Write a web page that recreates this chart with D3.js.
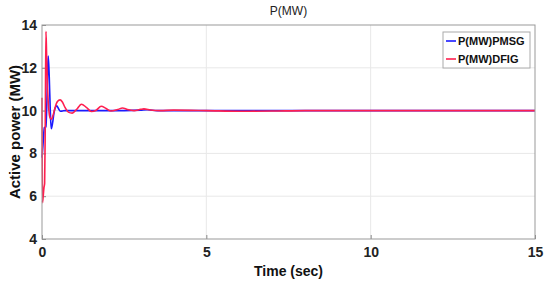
<!DOCTYPE html>
<html>
<head>
<meta charset="utf-8">
<script src="https://cdn.jsdelivr.net/npm/d3@7"></script>
<style>
  body { margin: 0; background: #fff; }
  svg { display: block; font-family: "Liberation Sans", Arial, sans-serif; }
</style>
</head>
<body>
<div id="chart"></div>
<script>
// time (s) and active power (MW)
const pmsgT = [0, 0.02, 0.04, 0.07, 0.12, 0.15, 0.17, 0.19, 0.22, 0.25, 0.28, 0.32, 0.36, 0.40, 0.45, 0.50, 0.56, 0.62, 0.70, 0.85, 1.0, 1.5, 2.0, 2.5, 3.0, 3.2, 3.5, 4.0, 5.0, 6.0, 7.0, 8.0, 9.0, 10.0, 11.0, 12.0, 13.0, 14.0, 15.0];
const pmsgP = [7.8, 8.2, 8.6, 9.2, 9.25, 10.5, 11.8, 12.55, 11.6, 10.1, 9.15, 9.4, 9.85, 10.12, 10.22, 10.1, 9.97, 9.98, 10.0, 10.0, 10.0, 10.0, 10.0, 10.0, 10.02, 10.04, 10.0, 10.0, 10.0, 10.0, 10.0, 10.0, 10.0, 10.0, 10.0, 10.0, 10.0, 10.0, 10.0];

const dfigT = [0, 0.015, 0.03, 0.06, 0.08, 0.10, 0.12, 0.14, 0.17, 0.21, 0.25, 0.29, 0.34, 0.40, 0.47, 0.55, 0.62, 0.70, 0.80, 0.92, 1.05, 1.2, 1.35, 1.5, 1.65, 1.8, 1.95, 2.1, 2.3, 2.45, 2.6, 2.8, 3.0, 3.1, 3.3, 3.6, 4.0, 5.0, 6.0, 7.0, 8.0, 9.0, 10.0, 11.0, 12.0, 13.0, 14.0, 15.0];
const dfigP = [10.6, 5.7, 5.9, 6.4, 6.6, 9.5, 13.7, 12.6, 11.0, 10.0, 9.65, 9.6, 9.8, 10.15, 10.42, 10.5, 10.4, 10.15, 9.93, 9.88, 10.05, 10.3, 10.15, 9.96, 10.02, 10.2, 10.1, 9.98, 10.05, 10.12, 10.05, 10.0, 10.06, 10.08, 10.03, 10.0, 10.02, 10.0, 9.97, 9.98, 10.0, 10.0, 10.0, 10.0, 10.0, 10.0, 10.0, 10.0];

const xTicks = [0, 5, 10, 15];
const yTicks = [4, 6, 8, 10, 12, 14];
const seriesNames = ["P(MW)PMSG", "P(MW)DFIG"];
const seriesColors = ["#1a1aff", "#ff1f4f"];

const W = 550, H = 290;
const margin = { top: 25, right: 15, bottom: 51, left: 42 };
const w = W - margin.left - margin.right;
const h = H - margin.top - margin.bottom;

const svg = d3.select("#chart").append("svg").attr("width", W).attr("height", H);
const g = svg.append("g").attr("transform", `translate(${margin.left},${margin.top})`);

const x = d3.scaleLinear().domain([0, 15]).range([0, w]);
const y = d3.scaleLinear().domain([4, 14]).range([h, 0]);

// grid
g.append("g").selectAll("line").data(yTicks.slice(1, -1)).join("line")
  .attr("x1", 0).attr("x2", w).attr("y1", d => y(d)).attr("y2", d => y(d))
  .attr("stroke", "#e8e8e8").attr("stroke-width", 1);
g.append("g").selectAll("line").data(xTicks.slice(1, -1)).join("line")
  .attr("y1", 0).attr("y2", h).attr("x1", d => x(d)).attr("x2", d => x(d))
  .attr("stroke", "#e8e8e8").attr("stroke-width", 1);

// axes
const styleAxis = sel => sel
  .call(s => s.select(".domain").remove())
  .call(s => s.selectAll(".tick line").attr("stroke", "#888"))
  .call(s => s.selectAll(".tick text").attr("fill", "#222").attr("font-size", 14)
    .attr("font-weight", "bold").attr("font-family", "Liberation Sans, Arial, sans-serif"));

g.append("g").attr("transform", `translate(0,${h})`)
  .call(d3.axisBottom(x).tickValues(xTicks).tickSizeInner(-4).tickSizeOuter(0).tickPadding(8))
  .call(styleAxis);
g.append("g")
  .call(d3.axisLeft(y).tickValues(yTicks).tickSizeInner(-4).tickSizeOuter(0).tickPadding(5))
  .call(styleAxis);

// lines
const line = d3.line().x(d => x(d[0])).y(d => y(d[1])).curve(d3.curveMonotoneX);
const pmsg = pmsgT.map((t, i) => [t, pmsgP[i]]);
const dfig = dfigT.map((t, i) => [t, dfigP[i]]);

g.append("path").datum(pmsg).attr("d", line)
  .attr("fill", "none").attr("stroke", seriesColors[0]).attr("stroke-width", 1.6);
g.append("path").datum(dfig).attr("d", line)
  .attr("fill", "none").attr("stroke", seriesColors[1]).attr("stroke-width", 1.6);

// box
g.append("rect").attr("width", w).attr("height", h)
  .attr("fill", "none").attr("stroke", "#999").attr("stroke-width", 1);

// legend
const lg = svg.append("g").attr("transform", "translate(443,32)");
lg.append("rect").attr("width", 87).attr("height", 36)
  .attr("fill", "#fff").attr("stroke", "#aaa");
seriesNames.forEach((name, i) => {
  const yy = 9 + i * 18;
  lg.append("line").attr("x1", 3).attr("x2", 13).attr("y1", yy).attr("y2", yy)
    .attr("stroke", seriesColors[i]).attr("stroke-width", 1.6);
  lg.append("text").attr("x", 15).attr("y", yy + 4).attr("font-size", 11)
    .attr("font-weight", "bold").attr("fill", "#111").text(name);
});

// titles
svg.append("text").attr("x", margin.left + w / 2).attr("y", 15).attr("text-anchor", "middle")
  .attr("font-size", 12).attr("fill", "#222").text("P(MW)");
svg.append("text").attr("x", margin.left + w / 2).attr("y", 276).attr("text-anchor", "middle")
  .attr("font-size", 14).attr("font-weight", "bold").attr("fill", "#111").text("Time (sec)");
svg.append("text").attr("transform", `translate(20,${margin.top + h / 2}) rotate(-90)`)
  .attr("text-anchor", "middle").attr("font-size", 15).attr("font-weight", "bold")
  .attr("fill", "#111").text("Active power (MW)");
</script>
</body>
</html>
